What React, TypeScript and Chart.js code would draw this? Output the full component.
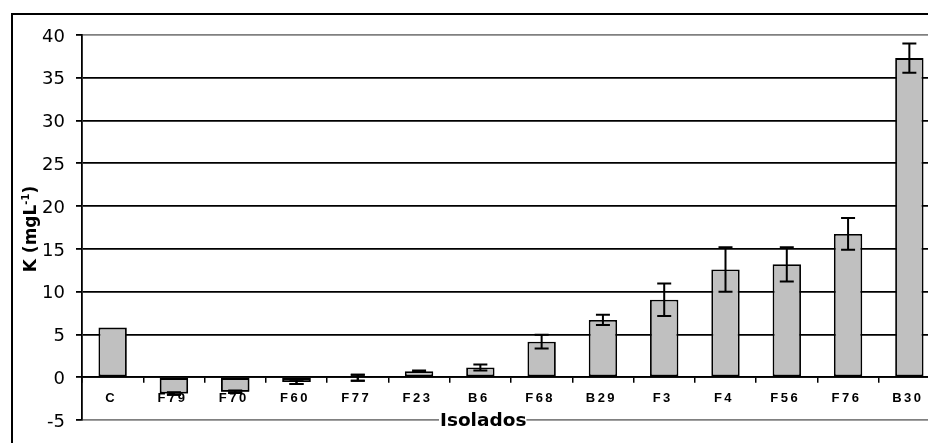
import { useEffect, useRef } from "react";
import { Chart, registerables } from "chart.js";

Chart.register(...registerables);

const categories = ["C", "F79", "F70", "F60", "F77", "F23", "B6", "F68", "B29", "F3", "F4", "F56", "F76", "B30"];
const potassium = [5.8, -1.9, -1.7, -0.55, -0.05, 0.7, 1.15, 4.15, 6.7, 9.05, 12.6, 13.2, 16.75, 37.3];
const potassiumError = [0, 0.15, 0.15, 0.25, 0.35, 0.1, 0.35, 0.8, 0.6, 1.9, 2.6, 2.0, 1.85, 1.7];
const yMin = -5;
const yMax = 40;
const yStep = 5;
const xTitle = "Isolados";
const yTitleMain = "K (mgL";
const yTitleSup = "-1";
const yTitleEnd = ")";

const ARIAL = '"Liberation Sans", Arial, sans-serif';
const WIDE = '"DejaVu Sans", Verdana, sans-serif';

function drawErrorBar(chart: any, i: number) {
  const e = potassiumError[i];
  if (!e) return;
  const ctx = chart.ctx;
  const bar = chart.getDatasetMeta(0).data[i];
  const ys = chart.scales.y;
  const v = potassium[i];
  const x = bar.x;
  const yt = ys.getPixelForValue(v + e);
  const yb = ys.getPixelForValue(v - e);
  ctx.save();
  ctx.strokeStyle = "#000";
  ctx.lineWidth = 2;
  ctx.beginPath();
  ctx.moveTo(x, yt);
  ctx.lineTo(x, yb);
  ctx.moveTo(x - 7, yt);
  ctx.lineTo(x + 7, yt);
  ctx.moveTo(x - 7, yb);
  ctx.lineTo(x + 7, yb);
  ctx.stroke();
  ctx.restore();
}

const decorPlugin = {
  id: "decor",
  beforeDraw(chart: any) {
    const ctx = chart.ctx;
    ctx.save();
    ctx.fillStyle = "#fff";
    ctx.fillRect(0, 0, chart.width, chart.height);
    ctx.strokeStyle = "#000";
    ctx.lineWidth = 2;
    ctx.strokeRect(12, 14, chart.width + 40, chart.height + 40);
    ctx.restore();
    ctx.letterSpacing = "0px";
  },
  afterDatasetsDraw(chart: any) {
    potassium.forEach((_, i) => drawErrorBar(chart, i));
    // category labels (x axis tick layer, drawn next) use spaced lettering
    chart.ctx.letterSpacing = "2.5px";
  },
  afterDraw(chart: any) {
    const ctx = chart.ctx;
    ctx.letterSpacing = "0px";
    // negative bars sit above their category labels, as in the original
    const meta = chart.getDatasetMeta(0);
    potassium.forEach((v, i) => {
      if (v < 0) {
        meta.data[i].draw(ctx);
        drawErrorBar(chart, i);
      }
    });

    // x title
    ctx.save();
    ctx.font = `bold 18.5px ${WIDE}`;
    ctx.textAlign = "left";
    ctx.textBaseline = "alphabetic";
    const w = ctx.measureText(xTitle).width;
    const x0 = 440;
    ctx.fillStyle = "#fff";
    ctx.fillRect(x0 - 1, 416, w + 1, 8);
    ctx.fillStyle = "#000";
    ctx.fillText(xTitle, x0, 426);
    ctx.restore();

    // y title
    ctx.save();
    ctx.translate(36, 229);
    ctx.rotate(-Math.PI / 2);
    ctx.fillStyle = "#000";
    ctx.textAlign = "left";
    ctx.textBaseline = "alphabetic";
    const big = `bold 17px ${WIDE}`;
    const small = `bold 10px ${WIDE}`;
    ctx.font = big;
    const w1 = ctx.measureText(yTitleMain).width;
    const w3 = ctx.measureText(yTitleEnd).width;
    ctx.font = small;
    const w2 = ctx.measureText(yTitleSup).width;
    let xx = -(w1 + w2 + w3) / 2;
    ctx.font = big;
    ctx.fillText(yTitleMain, xx, 0);
    xx += w1;
    ctx.font = small;
    ctx.fillText(yTitleSup, xx, -7);
    xx += w2;
    ctx.font = big;
    ctx.fillText(yTitleEnd, xx, 0);
    ctx.restore();
  },
};

export default function App() {
  const ref = useRef<HTMLCanvasElement | null>(null);

  useEffect(() => {
    if (!ref.current) return;
    const chart = new Chart(ref.current, {
      type: "bar",
      data: {
        labels: categories,
        datasets: [
          {
            data: potassium,
            backgroundColor: "#c0c0c0",
            borderColor: "#000",
            borderWidth: 1.8,
            borderSkipped: false,
            barPercentage: 0.463,
            categoryPercentage: 1,
          },
        ],
      },
      options: {
        responsive: false,
        animation: false,
        devicePixelRatio: 1,
        events: [],
        layout: { padding: { left: 0, top: 35, right: 10, bottom: 30 } },
        plugins: {
          legend: { display: false },
          tooltip: { enabled: false },
          title: { display: false },
        },
        scales: {
          x: {
            type: "category",
            position: { y: 0 } as any,
            offset: true,
            grid: {
              display: true,
              drawOnChartArea: false,
              offset: true,
              color: "#000",
              lineWidth: 1.5,
              tickLength: 5,
            },
            border: { display: true, color: "#000", width: 1.8 },
            ticks: {
              z: 1,
              color: "#000",
              font: { family: ARIAL, size: 13, weight: "bold" },
              padding: 8,
              autoSkip: false,
              maxRotation: 0,
              minRotation: 0,
              labelOffset: -1.5,
            },
            title: { display: false },
          },
          y: {
            type: "linear",
            min: yMin,
            max: yMax,
            afterFit: (s: any) => {
              s.width = 82;
            },
            grid: {
              color: (c: any) =>
                c.tick && (c.tick.value === yMax || c.tick.value === yMin) ? "#808080" : "#000",
              lineWidth: 1.8,
              tickColor: "#000",
              tickWidth: 1.8,
              tickLength: 6,
            },
            border: { display: true, color: "#000", width: 1.8 },
            ticks: {
              stepSize: yStep,
              color: "#000",
              font: { family: WIDE, size: 18, weight: "normal" },
              padding: 11,
              labelOffset: 2,
            },
            title: { display: false },
          },
        },
      },
      plugins: [decorPlugin],
    });
    return () => chart.destroy();
  }, []);

  return (
    <div
      style={{
        position: "absolute",
        left: 0,
        top: 0,
        width: 928,
        height: 443,
        overflow: "hidden",
        background: "#fff",
      }}
    >
      <canvas ref={ref} width={950} height={450} style={{ display: "block" }} />
    </div>
  );
}
